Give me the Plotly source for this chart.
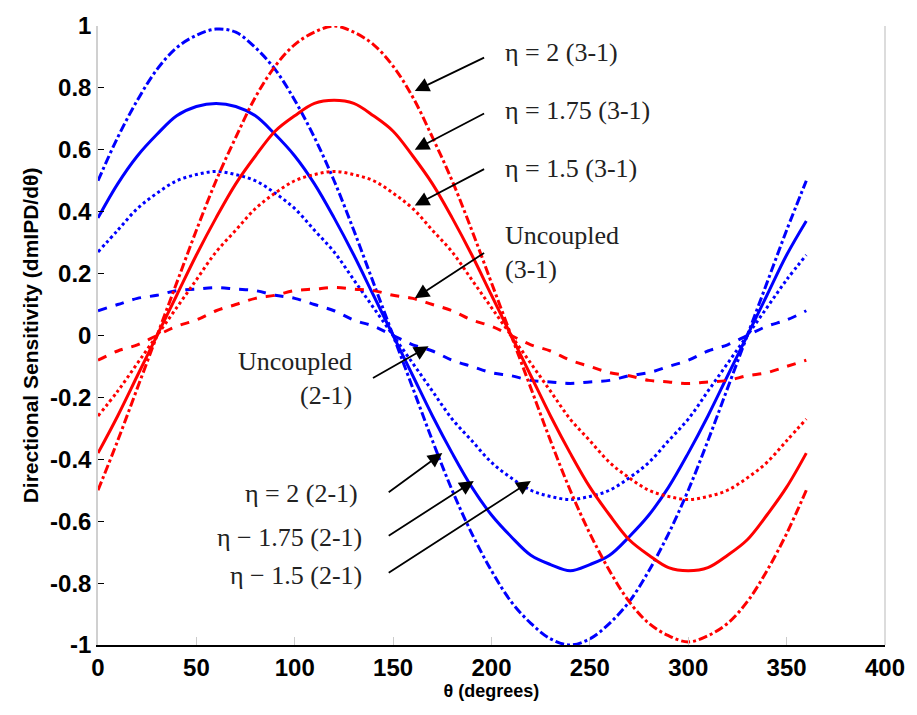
import plotly.graph_objects as go

theta = list(range(0, 361, 10))

blue_eta2 = [0.50, 0.64, 0.76, 0.86, 0.93, 0.97, 0.99, 0.98, 0.93, 0.86, 0.76, 0.64, 0.50, 0.34, 0.17, 0.00,
             -0.17, -0.34, -0.50, -0.64, -0.76, -0.86, -0.93, -0.98, -1.00, -0.98, -0.93, -0.86, -0.76, -0.64,
             -0.50, -0.34, -0.17, 0.00, 0.17, 0.34, 0.50]
blue_eta175 = [0.38, 0.49, 0.58, 0.65, 0.71, 0.74, 0.75, 0.74, 0.71, 0.65, 0.58, 0.49, 0.38, 0.26, 0.13, 0.00,
               -0.13, -0.26, -0.38, -0.49, -0.58, -0.65, -0.71, -0.74, -0.76, -0.74, -0.71, -0.65, -0.58, -0.49,
               -0.38, -0.26, -0.13, 0.00, 0.13, 0.26, 0.37]
blue_eta15 = [0.27, 0.34, 0.41, 0.46, 0.50, 0.52, 0.53, 0.52, 0.50, 0.46, 0.41, 0.34, 0.27, 0.18, 0.09, 0.00,
              -0.09, -0.18, -0.27, -0.34, -0.41, -0.46, -0.50, -0.52, -0.53, -0.52, -0.50, -0.46, -0.41, -0.34,
              -0.27, -0.18, -0.09, 0.00, 0.09, 0.18, 0.26]
blue_unc = [0.08, 0.10, 0.12, 0.13, 0.145, 0.15, 0.155, 0.15, 0.145, 0.13, 0.12, 0.10, 0.08, 0.05, 0.03, 0.00,
            -0.03, -0.05, -0.08, -0.10, -0.12, -0.13, -0.145, -0.15, -0.155, -0.15, -0.145, -0.13, -0.12, -0.10,
            -0.08, -0.05, -0.03, 0.00, 0.03, 0.05, 0.08]

red_eta2 = [-0.50, -0.34, -0.17, 0.00, 0.17, 0.34, 0.50, 0.64, 0.77, 0.87, 0.94, 0.98, 1.00, 0.98, 0.94, 0.87,
            0.77, 0.64, 0.50, 0.34, 0.17, 0.00, -0.17, -0.34, -0.50, -0.64, -0.76, -0.86, -0.93, -0.97, -0.99,
            -0.97, -0.93, -0.86, -0.76, -0.64, -0.50]
red_eta175 = [-0.38, -0.26, -0.13, 0.00, 0.13, 0.26, 0.38, 0.49, 0.58, 0.66, 0.71, 0.75, 0.76, 0.75, 0.71, 0.66,
              0.58, 0.49, 0.38, 0.26, 0.13, 0.00, -0.13, -0.26, -0.38, -0.49, -0.58, -0.66, -0.71, -0.75, -0.76,
              -0.75, -0.71, -0.66, -0.58, -0.49, -0.38]
red_eta15 = [-0.26, -0.18, -0.09, 0.00, 0.09, 0.18, 0.27, 0.34, 0.41, 0.46, 0.50, 0.52, 0.53, 0.52, 0.50, 0.46,
             0.41, 0.34, 0.27, 0.18, 0.09, 0.00, -0.09, -0.18, -0.27, -0.34, -0.41, -0.46, -0.50, -0.52, -0.53,
             -0.52, -0.50, -0.46, -0.41, -0.34, -0.27]
red_unc = [-0.08, -0.05, -0.03, 0.00, 0.03, 0.05, 0.08, 0.10, 0.12, 0.13, 0.145, 0.15, 0.155, 0.15, 0.145, 0.13,
           0.12, 0.10, 0.08, 0.05, 0.03, 0.00, -0.03, -0.05, -0.08, -0.10, -0.12, -0.13, -0.145, -0.15, -0.155,
           -0.15, -0.145, -0.13, -0.12, -0.10, -0.08]

x_ticks = [0, 50, 100, 150, 200, 250, 300, 350, 400]
y_ticks = [-1, -0.8, -0.6, -0.4, -0.2, 0, 0.2, 0.4, 0.6, 0.8, 1]
y_tick_text = ["-1", "-0.8", "-0.6", "-0.4", "-0.2", "0", "0.2", "0.4", "0.6", "0.8", "1"]

# label text, text position (x, y), arrow tail (x, y), arrow head (x, y), alignment
labels = [
    ("η = 2 (3-1)", (206, 0.915), (197, 0.90), (161, 0.79), "left"),
    ("η = 1.75 (3-1)", (206, 0.727), (197, 0.72), (161, 0.60), "left"),
    ("η = 1.5 (3-1)", (206, 0.54), (197, 0.54), (161, 0.42), "left"),
    ("Uncoupled<br>(3-1)", (206, 0.268), (197, 0.27), (161, 0.12), "left"),
    ("Uncoupled<br>(2-1)", (130, -0.14), (139, -0.14), (168, -0.035), "right"),
    ("η = 2 (2-1)", (133, -0.512), (147, -0.51), (175, -0.38), "right"),
    ("η − 1.75 (2-1)", (135, -0.653), (147, -0.65), (191, -0.47), "right"),
    ("η − 1.5 (2-1)", (135, -0.775), (147, -0.77), (220, -0.47), "right"),
]

series = [
    (blue_eta2, "blue", "dashdot"),
    (blue_eta175, "blue", "solid"),
    (blue_eta15, "blue", "dot"),
    (blue_unc, "blue", "dash"),
    (red_eta2, "red", "dashdot"),
    (red_eta175, "red", "solid"),
    (red_eta15, "red", "dot"),
    (red_unc, "red", "dash"),
]

fig = go.Figure()
for vals, col, dash in series:
    fig.add_trace(go.Scatter(x=theta, y=vals, mode="lines",
                             line=dict(color=col, width=3, dash=dash, shape="spline", smoothing=1.0),
                             showlegend=False, hoverinfo="skip"))

for text, tpos, tail, head, align in labels:
    fig.add_annotation(x=tpos[0], y=tpos[1], text=text, showarrow=False,
                       xanchor=align, yanchor="middle", align=align,
                       font=dict(family="Liberation Serif", size=26, color="#222"))
    fig.add_annotation(x=head[0], y=head[1], ax=tail[0], ay=tail[1],
                       xref="x", yref="y", axref="x", ayref="y", text="",
                       showarrow=True, arrowhead=2, arrowsize=1.6, arrowwidth=1.8,
                       arrowcolor="black")

fig.add_shape(type="line", xref="paper", yref="paper", x0=1, x1=1, y0=0, y1=1,
              line=dict(color="#d0d0d0", width=1.5))

fig.update_layout(
    width=917, height=715,
    margin=dict(l=98, r=24, t=22, b=70),
    plot_bgcolor="white", paper_bgcolor="white",
    xaxis=dict(range=[0, 400], tickvals=x_ticks, ticks="inside", ticklen=8, tickcolor="#cccccc",
               showline=True, linecolor="black", linewidth=1.5, showgrid=False, zeroline=False,
               tickfont=dict(family="Liberation Sans", size=24, color="black", weight="bold"),
               title=dict(text="θ (degrees)",
                          font=dict(family="Liberation Sans", size=18, color="black", weight="bold"),
                          standoff=2)),
    yaxis=dict(range=[-1, 1], tickvals=y_ticks, ticktext=y_tick_text, ticks="inside", ticklen=6,
               tickcolor="black", showline=True, linecolor="#d0d0d0", linewidth=1.5,
               showgrid=False, zeroline=False,
               tickfont=dict(family="Liberation Sans", size=24, color="black", weight="bold"),
               title=dict(text="Directional Sensitivity (dmIPD/dθ)",
                          font=dict(family="Liberation Sans", size=21, color="black", weight="bold"),
                          standoff=6)),
)

fig.write_html("out.html")
